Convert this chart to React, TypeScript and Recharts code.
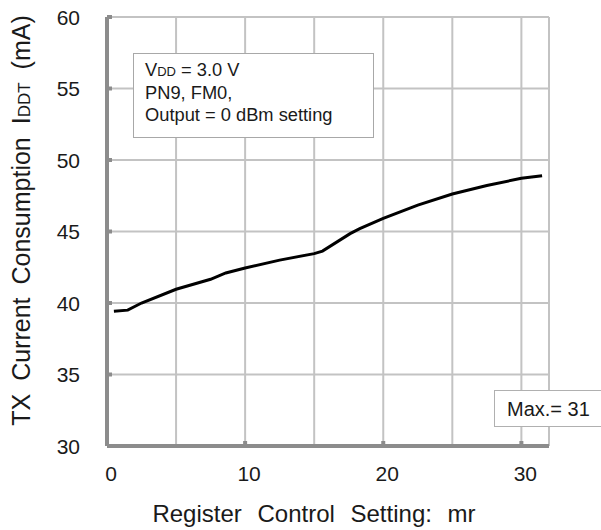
import React from 'react';
import { LineChart, Line, XAxis, YAxis, CartesianGrid } from 'recharts';

const mrValues = [0.5, 1.5, 2.5, 5, 7.5, 8.6, 10, 12.5, 15, 15.6, 17.6, 18.3, 20, 22.5, 25, 27.5, 30, 31.5];
const iddtValues = [39.42, 39.5, 40.0, 40.96, 41.66, 42.1, 42.45, 43.0, 43.45, 43.63, 44.85, 45.2, 45.92, 46.85, 47.62, 48.22, 48.72, 48.9];
const xTicks = [0, 5, 10, 15, 20, 25, 30];
const xLabeledTicks = [0, 10, 20, 30];
const yTicks = [30, 35, 40, 45, 50, 55, 60];
const xTitle = 'Register Control Setting: mr';
const yTitleMain = 'TX Current Consumption I';
const yTitleSub = 'DDT';
const yTitleUnit = ' (mA)';
const noteLines = ['= 3.0 V', 'PN9, FM0,', 'Output = 0 dBm setting'];
const maxNote = 'Max.= 31';

const data = mrValues.map((mr, i) => ({ mr, iddt: iddtValues[i] }));

const FONT = '"Liberation Sans", Arial, sans-serif';
const AXIS = '#8c8c8c';
const GRID = '#c3c3c3';
const TEXT = '#1a1a1a';

const XTick = (props: any) => {
  const { x, y, payload } = props;
  const v = payload.value;
  const labeled = xLabeledTicks.includes(v);
  return (
    <g>
      {labeled && v !== 0 && (
        <line x1={x} x2={x} y1={y - 20} y2={y - 25} stroke={AXIS} strokeWidth={4} />
      )}
      {labeled && (
        <text x={x + 4} y={y} dy="0.71em" textAnchor="middle" fontSize={21} fill={TEXT} fontFamily={FONT}>
          {v}
        </text>
      )}
    </g>
  );
};

const YTick = (props: any) => {
  const { x, y, payload } = props;
  return (
    <g>
      <line x1={x + 27} x2={x + 32} y1={y} y2={y} stroke={AXIS} strokeWidth={4} />
      <text x={x} y={y} dy="0.36em" textAnchor="end" fontSize={21} fill={TEXT} fontFamily={FONT}>
        {payload.value}
      </text>
    </g>
  );
};

const XTitle = (props: any) => {
  const vb = props.viewBox;
  return (
    <text
      x={vb.x + vb.width / 2 - 14}
      y={vb.y + 76}
      textAnchor="middle"
      fontSize={24}
      fill={TEXT}
      fontFamily={FONT}
      style={{ wordSpacing: '9px' }}
    >
      {xTitle}
    </text>
  );
};

const YTitle = (props: any) => {
  const vb = props.viewBox;
  const cx = vb.x + 30;
  const cy = vb.y + vb.height / 2 - 11;
  return (
    <text
      x={cx}
      y={cy}
      transform={`rotate(-90, ${cx}, ${cy})`}
      textAnchor="middle"
      fontSize={25}
      fill={TEXT}
      fontFamily={FONT}
      style={{ wordSpacing: '6px' }}
    >
      <tspan>{yTitleMain}</tspan>
      <tspan fontSize={17}>{yTitleSub}</tspan>
      <tspan>{yTitleUnit}</tspan>
    </text>
  );
};

const textLine = (top: number, left: number, size: number): React.CSSProperties => ({
  position: 'absolute',
  top,
  left,
  fontSize: size,
  lineHeight: 1,
  fontFamily: FONT,
  color: TEXT,
  whiteSpace: 'pre',
});

export default function App() {
  return (
    <div style={{ position: 'absolute', left: 0, top: 0, width: 601, height: 530, overflow: 'hidden', background: '#fff' }}>
      <LineChart width={601} height={530} data={data} margin={{ top: 17, right: 52, bottom: 0, left: 0 }}>
        <CartesianGrid stroke={GRID} strokeWidth={2} />
        <XAxis
          dataKey="mr"
          type="number"
          domain={[0, 32]}
          ticks={xTicks}
          interval={0}
          height={84}
          tickSize={0}
          tickMargin={20}
          tickLine={false}
          axisLine={{ stroke: AXIS, strokeWidth: 4 }}
          tick={<XTick />}
          label={XTitle}
        />
        <YAxis
          type="number"
          domain={[30, 60]}
          ticks={yTicks}
          interval={0}
          width={107}
          tickSize={0}
          tickMargin={27}
          tickLine={false}
          axisLine={{ stroke: AXIS, strokeWidth: 4 }}
          tick={<YTick />}
          label={YTitle}
        />
        <Line
          type="linear"
          dataKey="iddt"
          stroke="#000"
          strokeWidth={3}
          dot={false}
          isAnimationActive={false}
        />
      </LineChart>
      <div
        style={{
          position: 'absolute',
          left: 133,
          top: 53,
          width: 241,
          height: 85,
          boxSizing: 'border-box',
          border: '1.5px solid #a8a8a8',
          background: '#fff',
        }}
      />
      <div style={textLine(76 - 15.4, 145, 18.3)}>
        V<span style={{ fontSize: 13 }}>DD</span> {noteLines[0]}
      </div>
      <div style={textLine(99 - 15.4, 145, 18.3)}>{noteLines[1]}</div>
      <div style={textLine(121.5 - 15.4, 145, 18.3)}>{noteLines[2]}</div>
      <div
        style={{
          position: 'absolute',
          left: 494,
          top: 390,
          width: 130,
          height: 37,
          boxSizing: 'border-box',
          border: '1.5px solid #b0b0b0',
          background: '#fff',
        }}
      />
      <div style={textLine(416 - 16.9, 507, 20)}>{maxNote}</div>
    </div>
  );
}
